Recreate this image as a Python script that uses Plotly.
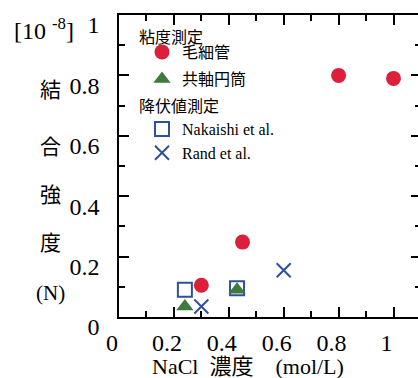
import plotly.graph_objects as go

# NaCl concentration (mol/L) and binding strength (x10^-8 N)
capillary_x = [0.30, 0.45, 0.80, 1.00]
capillary_y = [0.105, 0.248, 0.80, 0.79]
coaxial_x = [0.24, 0.43]
coaxial_y = [0.035, 0.09]
nakaishi_x = [0.24, 0.43]
nakaishi_y = [0.09, 0.095]
rand_x = [0.30, 0.60]
rand_y = [0.035, 0.155]

x_ticks = [0, 0.2, 0.4, 0.6, 0.8, 1.0]
x_tick_text = ["0", "0.2", "0.4", "0.6", "0.8", "1"]
y_ticks = [0, 0.2, 0.4, 0.6, 0.8, 1.0]
y_tick_text = ["0", "0.2", "0.4", "0.6", "0.8", "1"]
y_title_chars = ["結", "合", "強", "度", "(N)"]
y_title_rows = [90, 147, 195, 243, 293]
group_titles = ["粘度測定", "降伏値測定"]
group_title_rows = [38, 106]

RED = "#dc1f3a"
GREEN = "#3d7a3b"
BLUE = "#2f509c"
FONT = "Liberation Serif, Noto Sans CJK JP, serif"

W, H = 418, 378
ML, MR, MT, MB = 119, 0, 15, 61
PW, PH = W - ML - MR, H - MT - MB


def px(x):
    return (x - ML) / PW


def py(y):
    return (H - MB - y) / PH


fig = go.Figure()

fig.add_trace(go.Scatter(
    x=nakaishi_x, y=nakaishi_y, mode="markers", name="Nakaishi et al.",
    legend="legend2", legendrank=1,
    marker=dict(symbol="square-open", size=14, color=BLUE, line=dict(width=2, color=BLUE)),
))
fig.add_trace(go.Scatter(
    x=rand_x, y=rand_y, mode="markers", name="Rand et al.",
    legend="legend2", legendrank=2,
    marker=dict(symbol="x-thin", size=14, line=dict(width=2, color=BLUE)),
))
fig.add_trace(go.Scatter(
    x=coaxial_x, y=coaxial_y, mode="markers", name="共軸円筒",
    legend="legend3",
    marker=dict(symbol="triangle-up", size=15, color=GREEN),
))
fig.add_trace(go.Scatter(
    x=capillary_x, y=capillary_y, mode="markers", name="毛細管",
    legend="legend",
    marker=dict(symbol="circle", size=15, color=RED),
))

# invisible trace carrying the right-hand tick marks
fig.add_trace(go.Scatter(x=[0], y=[0], yaxis="y2", mode="markers",
                         marker=dict(opacity=0), showlegend=False, hoverinfo="skip"))

axis_common = dict(
    showgrid=False, zeroline=False, ticks="inside", tickwidth=1.5,
    tickcolor="black", ticklen=10, linecolor="black", linewidth=1.5,
    tickfont=dict(family=FONT, size=24, color="black"),
)
legend_common = dict(
    xanchor="left", yanchor="top", bgcolor="rgba(0,0,0,0)", borderwidth=0,
    font=dict(family=FONT, size=16, color="black"), tracegroupgap=0,
)

fig.update_layout(
    width=W, height=H,
    margin=dict(l=ML, r=MR, t=MT, b=MB),
    paper_bgcolor="white", plot_bgcolor="white",
    font=dict(family=FONT, color="black"),
    xaxis=dict(
        range=[0, (W - ML) / 274.5], showline=True, mirror="ticks",
        tickvals=x_ticks, ticktext=x_tick_text,
        minor=dict(ticks="inside", dtick=0.1, tick0=0, ticklen=6, tickwidth=1.5, tickcolor="black"),
        ticklabelshift=-7, ticklabelstandoff=3,
        **axis_common,
    ),
    yaxis=dict(
        range=[0, 1.0], showline=True, mirror=False,
        tickvals=y_ticks, ticktext=y_tick_text,
        minor=dict(ticks="inside", dtick=0.1, tick0=0, ticklen=6, tickwidth=1.5, tickcolor="black"),
        ticklabelshift=10, ticklabelstandoff=13,
        **axis_common,
    ),
    yaxis2=dict(
        range=[0, 1.0], overlaying="y", side="right", showline=False,
        showgrid=False, zeroline=False, showticklabels=False,
        tickvals=y_ticks, ticks="inside", ticklen=7, tickwidth=1.5, tickcolor="black",
        minor=dict(ticks="inside", dtick=0.1, tick0=0, ticklen=3, tickwidth=1.5, tickcolor="black"),
    ),
    legend=dict(x=px(142), y=py(35), **legend_common),
    legend3=dict(x=px(142), y=py(62), **legend_common),
    legend2=dict(x=px(142), y=py(112), **legend_common),
)

# legend group headings
for title, row in zip(group_titles, group_title_rows):
    fig.add_annotation(
        x=px(137), y=py(row), xref="paper", yref="paper", xanchor="left",
        yanchor="middle", showarrow=False, text=title,
        font=dict(family=FONT, size=16, color="black"),
    )

# unit prefix above the y-axis
fig.add_annotation(
    x=px(44), y=py(29), xref="paper", yref="paper", xanchor="center",
    yanchor="middle", showarrow=False,
    text="[10 <sup>-8</sup>]", font=dict(family=FONT, size=24, color="black"),
)

# vertical y-axis title
for ch, row in zip(y_title_chars, y_title_rows):
    fig.add_annotation(
        x=px(50), y=py(row), xref="paper", yref="paper", xanchor="center",
        yanchor="middle", showarrow=False,
        text=ch, font=dict(family=FONT, size=21, color="black"),
    )

# x-axis title
fig.add_annotation(
    x=px(150), y=py(366), xref="paper", yref="paper", xanchor="left",
    yanchor="middle", showarrow=False, text="NaCl  濃度　(mol/L)",
    font=dict(family=FONT, size=22, color="black"),
)

fig.write_html("out.html")
